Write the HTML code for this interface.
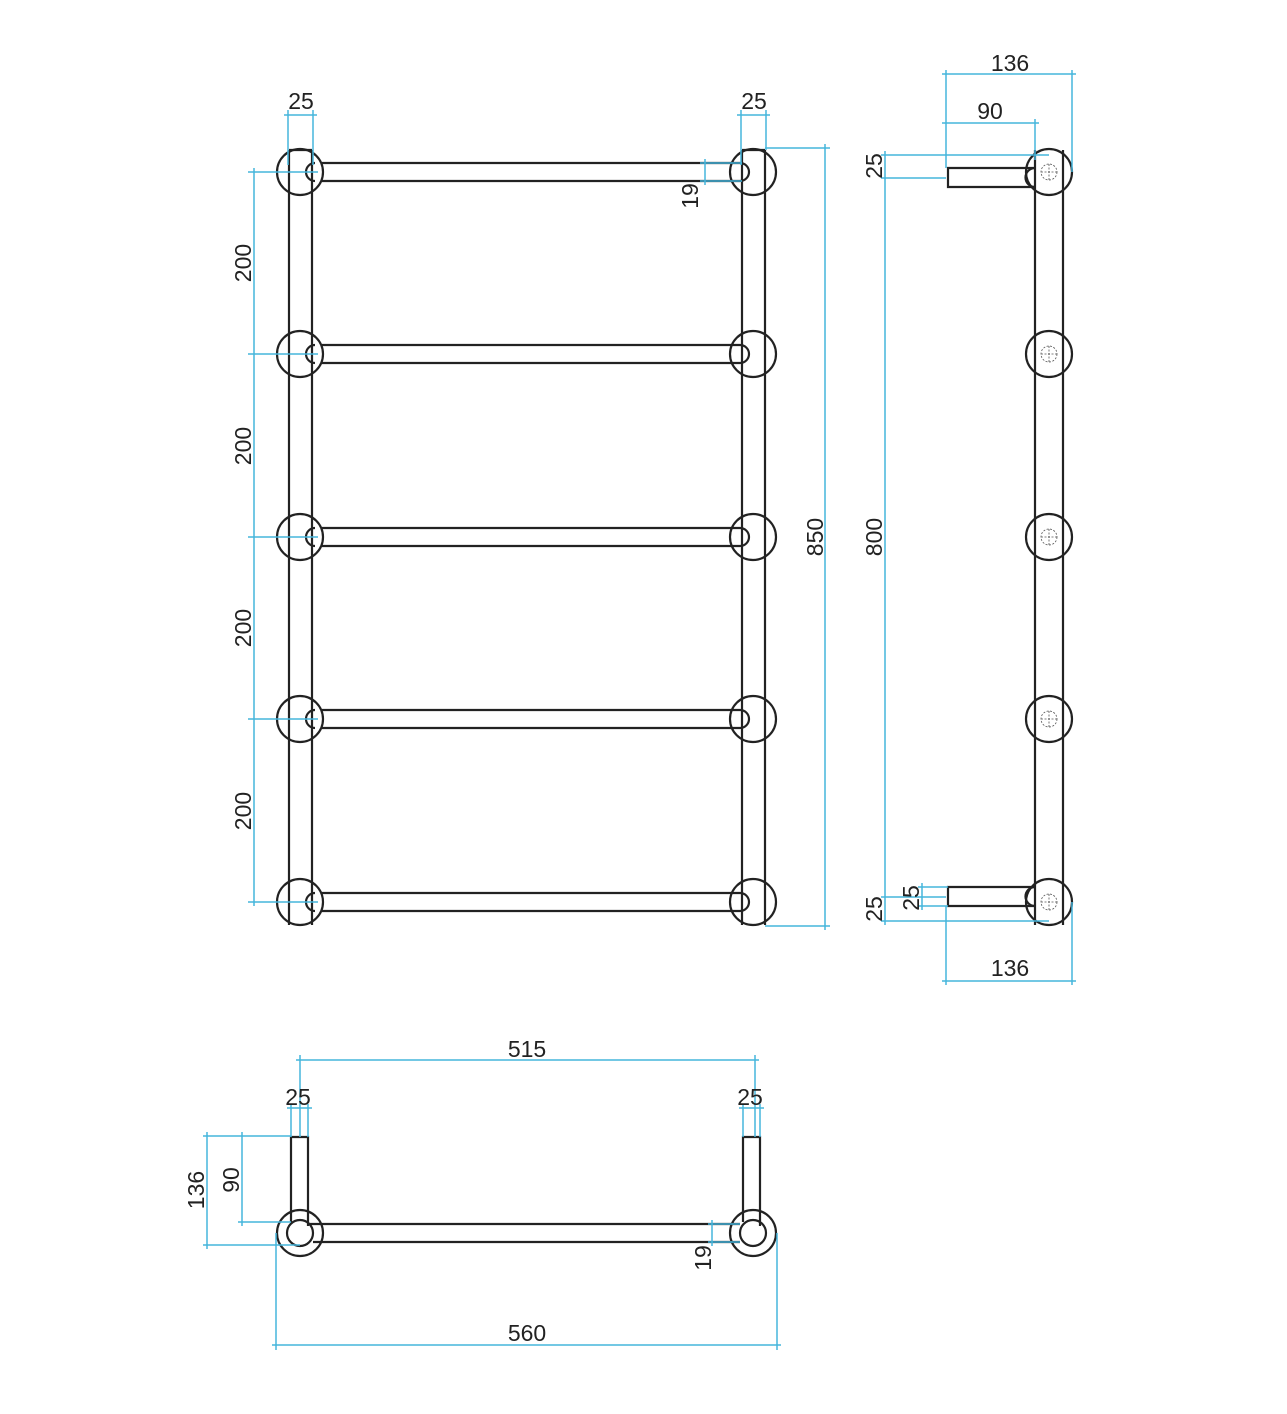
<!DOCTYPE html>
<html><head><meta charset="utf-8"><style>
html,body{margin:0;padding:0;background:#fff;}
svg{display:block;}
text{font-family:"Liberation Sans",sans-serif;font-size:23px;fill:#222;}
.k{stroke:#222;stroke-width:2.2;fill:none;}
.c{stroke:#45b5dc;stroke-width:1.5;fill:none;}
.d{stroke:#555;stroke-width:0.8;fill:none;stroke-dasharray:2 1.5;}
</style></head><body>
<svg width="1287" height="1414" viewBox="0 0 1287 1414" xmlns="http://www.w3.org/2000/svg">
<g class="k">
  <line x1="289" y1="150" x2="289" y2="925"/><line x1="312" y1="150" x2="312" y2="925"/>
  <line x1="742" y1="150" x2="742" y2="925"/><line x1="765" y1="150" x2="765" y2="925"/>
  <line x1="289" y1="150" x2="312" y2="150"/><line x1="742" y1="150" x2="765" y2="150"/>
</g>
<g class="k">
  <circle cx="300" cy="172" r="23"/><circle cx="753" cy="172" r="23"/>
  <circle cx="300" cy="354" r="23"/><circle cx="753" cy="354" r="23"/>
  <circle cx="300" cy="537" r="23"/><circle cx="753" cy="537" r="23"/>
  <circle cx="300" cy="719" r="23"/><circle cx="753" cy="719" r="23"/>
  <circle cx="300" cy="902" r="23"/><circle cx="753" cy="902" r="23"/>
  <path d="M322 163 H740 A9 9 0 0 1 740 181 H322"/><path d="M315 163 A9 9 0 0 0 315 181"/>
  <path d="M322 345 H740 A9 9 0 0 1 740 363 H322"/><path d="M315 345 A9 9 0 0 0 315 363"/>
  <path d="M322 528 H740 A9 9 0 0 1 740 546 H322"/><path d="M315 528 A9 9 0 0 0 315 546"/>
  <path d="M322 710 H740 A9 9 0 0 1 740 728 H322"/><path d="M315 710 A9 9 0 0 0 315 728"/>
  <path d="M322 893 H740 A9 9 0 0 1 740 911 H322"/><path d="M315 893 A9 9 0 0 0 315 911"/>
</g>
<g class="c">
  <line x1="288" y1="110" x2="288" y2="165"/><line x1="313" y1="110" x2="313" y2="165"/><line x1="284" y1="115" x2="317" y2="115"/>
  <line x1="741" y1="110" x2="741" y2="165"/><line x1="766" y1="110" x2="766" y2="150"/><line x1="737" y1="115" x2="770" y2="115"/>
  <line x1="765" y1="148" x2="830" y2="148"/><line x1="765" y1="926" x2="830" y2="926"/><line x1="825" y1="144" x2="825" y2="930"/>
  <line x1="254" y1="168" x2="254" y2="906"/>
  <line x1="248" y1="172" x2="318" y2="172"/><line x1="248" y1="354" x2="318" y2="354"/>
  <line x1="248" y1="537" x2="318" y2="537"/><line x1="248" y1="719" x2="318" y2="719"/><line x1="248" y1="902" x2="318" y2="902"/>
  <line x1="700" y1="163" x2="742" y2="163"/><line x1="700" y1="181" x2="742" y2="181"/><line x1="705" y1="159" x2="705" y2="185"/>
</g>
<text x="301" y="109" text-anchor="middle">25</text>
<text x="754" y="109" text-anchor="middle">25</text>
<text transform="translate(251,263) rotate(-90)" text-anchor="middle">200</text>
<text transform="translate(251,446) rotate(-90)" text-anchor="middle">200</text>
<text transform="translate(251,628) rotate(-90)" text-anchor="middle">200</text>
<text transform="translate(251,811) rotate(-90)" text-anchor="middle">200</text>
<text transform="translate(823,537) rotate(-90)" text-anchor="middle">850</text>
<text transform="translate(698,196) rotate(-90)" text-anchor="middle">19</text>

<g class="k">
  <line x1="1035" y1="150" x2="1035" y2="925"/><line x1="1063" y1="150" x2="1063" y2="925"/>
  <circle cx="1049" cy="172" r="23"/><circle cx="1049" cy="354" r="23"/><circle cx="1049" cy="537" r="23"/>
  <circle cx="1049" cy="719" r="23"/><circle cx="1049" cy="902" r="23"/>
  <path d="M1035 168 H948 V187 H1035"/><path d="M1035 168 A9 9 0 0 0 1035 187"/>
  <path d="M1035 887 H948 V906 H1035"/><path d="M1035 887 A9 9 0 0 0 1035 906"/>
</g>
<g class="d">
  <circle cx="1049" cy="172" r="8"/><circle cx="1049" cy="354" r="8"/><circle cx="1049" cy="537" r="8"/>
  <circle cx="1049" cy="719" r="8"/><circle cx="1049" cy="902" r="8"/>
  <path d="M1041 172h16M1049 164v16M1041 354h16M1049 346v16M1041 537h16M1049 529v16M1041 719h16M1049 711v16M1041 902h16M1049 894v16"/>
</g>
<g class="c">
  <line x1="946" y1="70" x2="946" y2="168"/><line x1="1072" y1="70" x2="1072" y2="172"/><line x1="942" y1="74" x2="1076" y2="74"/>
  <line x1="1035" y1="119" x2="1035" y2="160"/><line x1="942" y1="123" x2="1039" y2="123"/>
  <line x1="881" y1="155" x2="1049" y2="155"/><line x1="881" y1="178" x2="946" y2="178"/><line x1="885" y1="151" x2="885" y2="925"/>
  <line x1="881" y1="897" x2="946" y2="897"/><line x1="881" y1="921" x2="1049" y2="921"/>
  <line x1="918" y1="887" x2="948" y2="887"/><line x1="918" y1="906" x2="948" y2="906"/><line x1="922" y1="883" x2="922" y2="910"/>
  <line x1="946" y1="906" x2="946" y2="985"/><line x1="1072" y1="902" x2="1072" y2="985"/><line x1="942" y1="981" x2="1076" y2="981"/>
</g>
<text x="1010" y="71" text-anchor="middle">136</text>
<text x="990" y="119" text-anchor="middle">90</text>
<text transform="translate(882,166) rotate(-90)" text-anchor="middle">25</text>
<text transform="translate(882,537) rotate(-90)" text-anchor="middle">800</text>
<text transform="translate(882,909) rotate(-90)" text-anchor="middle">25</text>
<text transform="translate(919,898) rotate(-90)" text-anchor="middle">25</text>
<text x="1010" y="976" text-anchor="middle">136</text>

<g class="k">
  <circle cx="300" cy="1233" r="23"/><circle cx="300" cy="1233" r="13"/>
  <circle cx="753" cy="1233" r="23"/><circle cx="753" cy="1233" r="13"/>
  <path d="M291 1222 V1137 H308 V1226"/>
  <path d="M743 1222 V1137 H760 V1226"/>
  <line x1="308" y1="1224" x2="740" y2="1224"/><line x1="313" y1="1242" x2="740" y2="1242"/>
</g>
<g class="c">
  <line x1="300" y1="1055" x2="300" y2="1137"/><line x1="755" y1="1055" x2="755" y2="1137"/><line x1="296" y1="1060" x2="759" y2="1060"/>
  <line x1="291" y1="1104" x2="291" y2="1137"/><line x1="308" y1="1104" x2="308" y2="1137"/><line x1="287" y1="1108" x2="312" y2="1108"/>
  <line x1="743" y1="1104" x2="743" y2="1137"/><line x1="760" y1="1104" x2="760" y2="1137"/><line x1="739" y1="1108" x2="764" y2="1108"/>
  <line x1="203" y1="1136" x2="291" y2="1136"/><line x1="203" y1="1245" x2="300" y2="1245"/><line x1="207" y1="1132" x2="207" y2="1249"/>
  <line x1="238" y1="1222" x2="291" y2="1222"/><line x1="242" y1="1132" x2="242" y2="1226"/>
  <line x1="708" y1="1224" x2="740" y2="1224"/><line x1="708" y1="1242" x2="740" y2="1242"/><line x1="712" y1="1220" x2="712" y2="1246"/>
  <line x1="276" y1="1233" x2="276" y2="1350"/><line x1="777" y1="1233" x2="777" y2="1350"/><line x1="272" y1="1345" x2="781" y2="1345"/>
</g>
<text x="527" y="1057" text-anchor="middle">515</text>
<text x="298" y="1105" text-anchor="middle">25</text>
<text x="750" y="1105" text-anchor="middle">25</text>
<text transform="translate(204,1190) rotate(-90)" text-anchor="middle">136</text>
<text transform="translate(239,1180) rotate(-90)" text-anchor="middle">90</text>
<text transform="translate(711,1258) rotate(-90)" text-anchor="middle">19</text>
<text x="527" y="1341" text-anchor="middle">560</text>
</svg>
</body></html>
